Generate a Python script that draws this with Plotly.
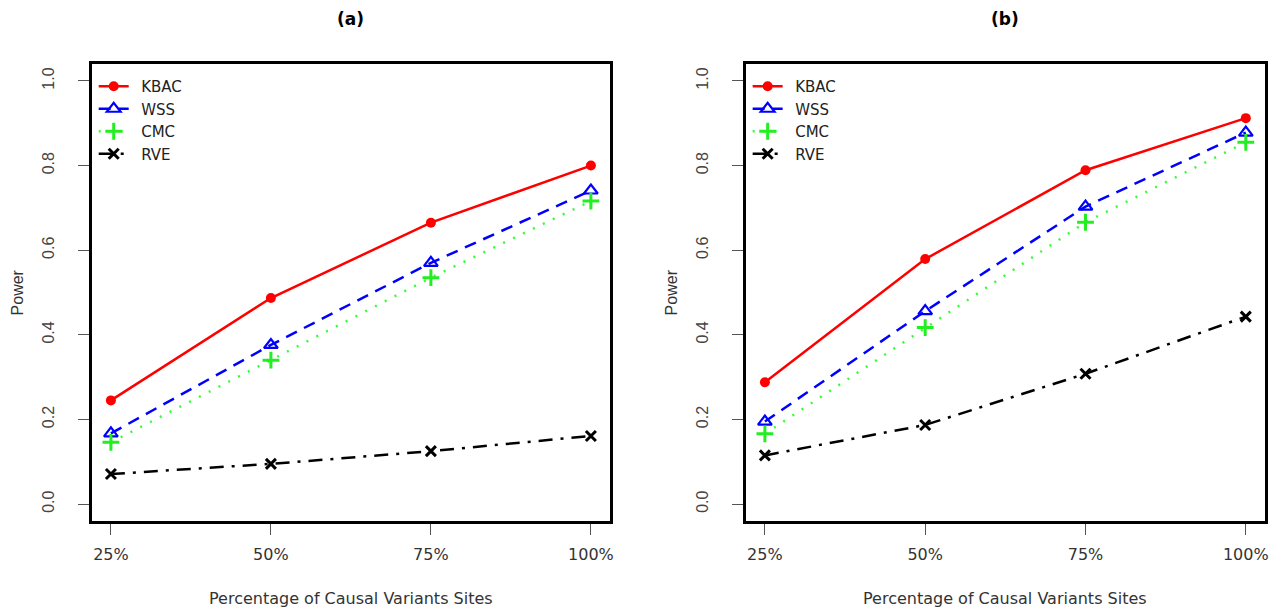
import plotly.graph_objects as go

categories = ["25%", "50%", "75%", "100%"]
methods = ["KBAC", "WSS", "CMC", "RVE"]

a_kbac = [0.245, 0.487, 0.665, 0.800]
a_wss = [0.167, 0.376, 0.570, 0.741]
a_cmc = [0.146, 0.340, 0.535, 0.716]
a_rve = [0.071, 0.095, 0.125, 0.161]

b_kbac = [0.288, 0.579, 0.789, 0.912]
b_wss = [0.195, 0.456, 0.703, 0.878]
b_cmc = [0.166, 0.417, 0.666, 0.855]
b_rve = [0.115, 0.187, 0.308, 0.443]

y_ticks = [0.0, 0.2, 0.4, 0.6, 0.8, 1.0]
panel_titles = ["(a)", "(b)"]
x_title = "Percentage of Causal Variants Sites"
y_title = "Power"

styles = {
    "KBAC": dict(line=dict(color="#ff0000", width=2.5, dash="solid"),
                 marker=dict(symbol="circle", size=10, color="#ff0000")),
    "WSS": dict(line=dict(color="#0000ff", width=2.5, dash="12px,8px"),
                marker=dict(symbol="triangle-up-open", size=12, color="#0000ff",
                            line=dict(width=2.2, color="#0000ff"))),
    "CMC": dict(line=dict(color="#33ff33", width=2.5, dash="2px,9px"),
                marker=dict(symbol="cross-thin-open", size=12, color="#22ee22",
                            line=dict(width=3, color="#22ee22"))),
    "RVE": dict(line=dict(color="#000000", width=2.5, dash="14px,8px,3px,8px"),
                marker=dict(symbol="x-thin-open", size=10, color="#000000",
                            line=dict(width=3, color="#000000"))),
}

fig = go.Figure()
panels = [
    ("x", "y", "legend", [a_kbac, a_wss, a_cmc, a_rve]),
    ("x2", "y2", "legend2", [b_kbac, b_wss, b_cmc, b_rve]),
]
for xa, ya, lg, series in panels:
    for name, vals in zip(methods, series):
        st = styles[name]
        fig.add_trace(go.Scatter(
            x=categories, y=vals, name="\u2002" + name, mode="lines+markers",
            line=st["line"], marker=st["marker"], xaxis=xa, yaxis=ya, legend=lg,
        ))

ytop = 1 - 64 / 609
ybot = 1 - 521 / 609
doms = [(92 / 1280, 612 / 1280), (748 / 1280, 1269 / 1280)]

axis_common = dict(
    showline=True, linecolor="black", linewidth=2.5, mirror=True,
    ticks="outside", ticklen=11, tickwidth=1, tickcolor="#555",
    showgrid=False, zeroline=False,
)
for i, (d0, d1) in enumerate(doms):
    sx = "" if i == 0 else "2"
    fig.update_layout(**{
        f"xaxis{sx}": dict(
            domain=[d0, d1], anchor=f"y{sx}", type="category",
            categoryorder="array", categoryarray=categories,
            range=[-0.12, 3.12],
            tickfont=dict(family="DejaVu Sans", size=16, color="#333"),
            ticklabelstandoff=6,
            **axis_common),
        f"yaxis{sx}": dict(
            domain=[ybot, ytop], anchor=f"x{sx}",
            range=[-0.04, 1.04], tickvals=y_ticks,
            ticktext=[f"{v:.1f}" for v in y_ticks],
            tickangle=-90,
            tickfont=dict(family="Liberation Sans", size=16, color="#444"),
            ticklabelstandoff=18,
            **axis_common),
    })

annotations = []
for i, (d0, d1) in enumerate(doms):
    cx = (d0 + d1) / 2
    annotations.append(dict(text=f"<b>{panel_titles[i]}</b>", x=cx, y=1 - 19 / 609,
                            xanchor="center", yanchor="middle",
                            xref="paper", yref="paper", showarrow=False,
                            font=dict(family="DejaVu Sans", size=17, color="black")))
    annotations.append(dict(text=x_title, x=cx, y=1 - 598 / 609,
                            xanchor="center", yanchor="middle",
                            xref="paper", yref="paper", showarrow=False,
                            font=dict(family="DejaVu Sans", size=16, color="#333")))
    annotations.append(dict(text=y_title, x=(18 if i == 0 else 674) / 1280,
                            y=(ytop + ybot) / 2, textangle=-90,
                            xanchor="center", yanchor="middle",
                            xref="paper", yref="paper", showarrow=False,
                            font=dict(family="Liberation Sans", size=16, color="#333")))

legend_common = dict(
    xanchor="left", yanchor="top", bgcolor="rgba(0,0,0,0)",
    font=dict(family="DejaVu Sans", size=15, color="#222"),
    tracegroupgap=0, itemwidth=30,
)
fig.update_layout(
    width=1280, height=609,
    margin=dict(l=0, r=0, t=0, b=0),
    paper_bgcolor="white", plot_bgcolor="white",
    annotations=annotations,
    legend=dict(x=94 / 1280, y=1 - 70 / 609, **legend_common),
    legend2=dict(x=750 / 1280, y=1 - 70 / 609, **legend_common),
    showlegend=True,
)

fig.write_html("out.html")
